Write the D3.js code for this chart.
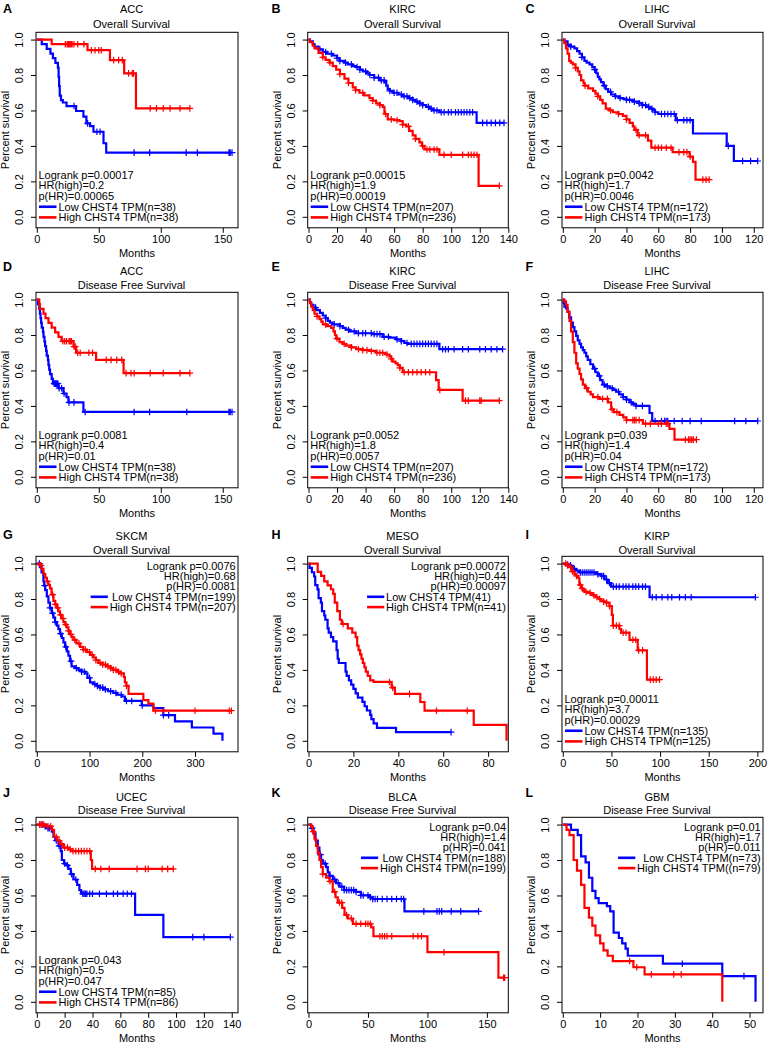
<!DOCTYPE html>
<html><head><meta charset="utf-8">
<script src="https://cdn.jsdelivr.net/npm/d3@7"></script>
<style>body{margin:0;background:#fff}svg{display:block}</style>
</head><body><svg id="c" width="770" height="1043"></svg>
<script>
// ---------- data ----------
const panelLetters = ["A","B","C","D","E","F","G","H","I","J","K","L"];
const cancers = ["ACC","KIRC","LIHC","ACC","KIRC","LIHC","SKCM","MESO","KIRP","UCEC","BLCA","GBM"];
const survTypes = ["Overall Survival","Overall Survival","Overall Survival","Disease Free Survival","Disease Free Survival","Disease Free Survival","Overall Survival","Overall Survival","Overall Survival","Disease Free Survival","Disease Free Survival","Disease Free Survival"];
const logrankP = ["0.00017","0.00015","0.0042","0.0081","0.0052","0.039","0.0076","0.00072","0.00011","0.043","0.04","0.01"];
const hrHigh = ["0.2","1.9","1.7","0.4","1.8","1.4","0.68","0.44","3.7","0.5","1.4","1.7"];
const pHR = ["0.00065","0.00019","0.0046","0.01","0.0057","0.04","0.0081","0.00097","0.00029","0.047","0.041","0.011"];
const lowLabels = ["Low CHST4 TPM(n=38)","Low CHST4 TPM(n=207)","Low CHST4 TPM(n=172)","Low CHST4 TPM(n=38)","Low CHST4 TPM(n=207)","Low CHST4 TPM(n=172)","Low CHST4 TPM(n=199)","Low CHST4 TPM(41)","Low CHST4 TPM(n=135)","Low CHST4 TPM(n=85)","Low CHST4 TPM(n=188)","Low CHST4 TPM(n=73)"];
const highLabels = ["High CHST4 TPM(n=38)","High CHST4 TPM(n=236)","High CHST4 TPM(n=173)","High CHST4 TPM(n=38)","High CHST4 TPM(n=236)","High CHST4 TPM(n=173)","High CHST4 TPM(n=207)","High CHST4 TPM(n=41)","High CHST4 TPM(n=125)","High CHST4 TPM(n=86)","High CHST4 TPM(n=199)","High CHST4 TPM((n=79)"];
const xMaxMonths = [162.3,140,125.8,162.3,140,125.8,381.5,89,205.8,144.5,168,53.6];
const xTicksA = [0,50,100,150];
const xTicksB = [0,20,40,60,80,100,120,140];
const xTicksC = [0,20,40,60,80,100,120];
const xTicksG = [0,100,200,300];
const xTicksH = [0,20,40,60,80];
const xTicksI = [0,50,100,150,200];
const xTicksJ = [0,20,40,60,80,100,120,140];
const xTicksK = [0,50,100,150];
const xTicksL = [0,10,20,30,40,50];
const yTicks = [0,0.2,0.4,0.6,0.8,1.0];

// survival steps [month, survival] and censor times
const accOsLow = [[4,0.974],[8,0.947],[11,0.921],[13,0.895],[15,0.868],[17,0.842],[17.6,0.789],[18,0.737],[18.5,0.684],[19.5,0.658],[21,0.645],[24,0.625],[31.7,0.597],[37.6,0.565],[40,0.527],[43,0.512],[45.7,0.48],[53.8,0.415],[56,0.362]];
const accOsLowCens = [30,41,48.5,51,78.5,91,120.5,129.5,155,156,157.5];
const accOsHigh = [[12,0.974],[40.9,0.94],[59,0.884],[70.5,0.809],[80,0.612]];
const accOsHighCens = [23,24.5,25.5,26.5,27.5,28.5,30,33,38,44,47,50,52,62,66,69,74,77,78,91.5,96.5,102,107.5,115.5,123.5];

const kircOsLow = [[1,0.99],[3,0.975],[4.2,0.96],[7,0.945],[10,0.93],[13,0.92],[17,0.91],[20,0.895],[21.7,0.88],[25,0.87],[27.5,0.86],[31,0.85],[33.4,0.845],[36,0.83],[38,0.82],[41,0.81],[42.7,0.80],[46,0.785],[49.7,0.77],[53.2,0.76],[54.5,0.74],[55.5,0.72],[57,0.71],[59,0.70],[63,0.69],[66,0.68],[70,0.67],[73,0.66],[75,0.65],[77.7,0.64],[80,0.63],[82.4,0.62],[85,0.61],[87,0.60],[91.7,0.59],[117.8,0.53]];
const kircOsLowCens = [8,12,16,20,22,26,30,34,36,40,43,46,49,51,53,57,60,62,65,67,69,71,73,76,78,80,84,86,88,90,93,95,98,100,103,105,107,109,111,113,115,122,125,128,131,134,137];
const kircOsHigh = [[1,0.985],[3,0.965],[4.2,0.95],[7,0.925],[10,0.90],[12,0.885],[14.7,0.87],[17,0.85],[19.4,0.83],[22,0.805],[25.2,0.78],[28,0.755],[31,0.73],[33,0.715],[35.7,0.70],[39,0.685],[42.7,0.67],[45,0.655],[47.4,0.64],[50,0.63],[52,0.62],[53.2,0.58],[55.5,0.55],[60,0.545],[63.7,0.54],[66,0.52],[68.4,0.51],[70.5,0.485],[73,0.46],[75,0.44],[77.7,0.42],[79.5,0.40],[81.2,0.38],[91.7,0.35],[119.2,0.175]];
const kircOsHighCens = [10,15,22,28,33,38,45,50,54,58,62,66,70,75,80,83,85,88,90,95,100,108,112,114,116,118,133.7];

const lihcOsLow = [[1,0.99],[3,0.97],[5,0.96],[7.3,0.95],[9,0.935],[10.5,0.92],[12,0.90],[13.6,0.88],[15,0.87],[16.8,0.86],[18.5,0.845],[20,0.83],[21,0.81],[22,0.79],[23,0.775],[24,0.76],[25.5,0.74],[27,0.72],[28.5,0.705],[30.4,0.69],[33,0.68],[35.6,0.67],[38,0.665],[40,0.66],[44,0.65],[48,0.64],[50,0.63],[52.4,0.62],[54.5,0.61],[56.6,0.60],[58,0.59],[60,0.58],[71,0.545],[81.8,0.47],[103,0.40],[107.5,0.315]];
const lihcOsLowCens = [5,12,20,26,30,33,36,40,42,45,48,50,52,54,56,58,62,64,66,68,70,72,76,78,80,104,113,118,122.5];
const lihcOsHigh = [[1,0.98],[2,0.95],[3,0.92],[4,0.88],[5,0.87],[6.3,0.86],[8,0.84],[9.4,0.82],[10.5,0.80],[11.5,0.77],[13,0.755],[13.6,0.74],[16,0.725],[19,0.71],[20.5,0.695],[22,0.68],[23.5,0.66],[25,0.64],[27,0.61],[29,0.60],[31.4,0.59],[35,0.58],[37.7,0.57],[40,0.55],[42,0.53],[44,0.51],[45,0.49],[47,0.46],[53.5,0.43],[55.6,0.39],[69,0.365],[79.7,0.34],[81.8,0.31],[83.4,0.21]];
const lihcOsHighCens = [8,14,22,30,35,40,46,48,52,58,60,62,65,68,73,76,78,80,88,90,92];

const accDfsLow = [[1,0.974],[2,0.947],[2.5,0.921],[3,0.895],[3.5,0.868],[4,0.842],[5,0.816],[5.4,0.789],[6.2,0.763],[6.7,0.737],[7.5,0.711],[8,0.684],[9,0.658],[9.4,0.632],[10,0.605],[10.7,0.579],[12,0.553],[13,0.526],[17.5,0.50],[21.5,0.47],[24,0.45],[25.5,0.42],[37.6,0.366]];
const accDfsLowCens = [14,15,16,17,18,20,22,26,30,39,78.5,91,121,155,156,157.5];
const accDfsHigh = [[2,0.974],[2.5,0.947],[5.4,0.921],[7,0.895],[9.4,0.868],[12,0.842],[14.8,0.815],[17.5,0.79],[20,0.765],[29.6,0.735],[31.7,0.70],[47.8,0.66],[70,0.585]];
const accDfsHighCens = [21,22.5,24,26,27,28,30,31,33,35,42,45,56,60,64.5,68.5,72,76,78.5,91.5,102,115.5,123.5];

const kircDfsLow = [[1,0.985],[1.9,0.97],[3.5,0.955],[5.4,0.94],[8,0.925],[10,0.91],[12,0.895],[13.5,0.88],[15,0.87],[17,0.86],[22,0.85],[24,0.84],[26,0.83],[28.7,0.82],[33.4,0.81],[45,0.805],[52,0.79],[56.7,0.785],[61.4,0.775],[65,0.765],[67.2,0.755],[69.5,0.75],[91.7,0.72]];
const kircDfsLowCens = [5,12,18,22,28,32,35,38,40,44,46,48,50,53,56,62,65,69,72,74,76,78,80,82,84,86,88,90,94,96,98,102,108,112,120,124,128,132,136];
const kircDfsHigh = [[1,0.98],[1.9,0.96],[3,0.94],[4.2,0.92],[6,0.905],[7.7,0.89],[9,0.875],[10,0.86],[13,0.85],[15.9,0.84],[17.5,0.82],[18.5,0.80],[19.4,0.78],[21.7,0.76],[24,0.75],[26.4,0.74],[30,0.73],[33.4,0.72],[38,0.715],[42.7,0.71],[47.4,0.70],[54,0.69],[56.7,0.68],[58,0.665],[59,0.65],[61,0.64],[62.5,0.63],[64,0.615],[66,0.59],[89.4,0.545],[91.2,0.49],[108,0.43]];
const kircDfsHighCens = [6,12,20,25,30,35,38,41,44,48,50,52,55,58,64,67,70,73,76,79,82,85,92,110,112,120,121,133.7];

const lihcDfsLow = [[0.5,0.98],[1,0.96],[2,0.95],[3,0.93],[4,0.90],[5.2,0.87],[6.3,0.845],[7.3,0.82],[8.4,0.795],[9.4,0.77],[10.5,0.75],[11.5,0.73],[12.6,0.715],[13.6,0.70],[14.7,0.68],[15.7,0.66],[17.3,0.635],[19,0.61],[20.5,0.59],[22,0.57],[23.5,0.545],[25,0.52],[27,0.51],[29.4,0.50],[31.5,0.49],[33.5,0.48],[35.5,0.465],[37.7,0.45],[40,0.435],[42,0.42],[44,0.41],[46,0.40],[54.5,0.36],[56.2,0.315]];
const lihcDfsLowCens = [20,23,26,28,31,35,38,40,43,46,50,58,62,64,65,66,70,75,80,87,108,115,122.5];
const lihcDfsHigh = [[1,0.99],[2,0.97],[3,0.93],[4.2,0.88],[5.2,0.82],[6.3,0.76],[7.3,0.70],[8.4,0.64],[9.4,0.61],[10.5,0.58],[11.5,0.55],[12.6,0.52],[14,0.50],[15.7,0.48],[17.5,0.465],[19,0.45],[23,0.44],[28.3,0.42],[30.4,0.38],[32,0.365],[35.6,0.35],[38,0.335],[40,0.32],[50.3,0.30],[67,0.27],[70.2,0.21]];
const lihcDfsHighCens = [15,22,25,28,31,34,40,44,45,46,48,52,55,60,62,65,66,77,79,80,81,82,84];

const skcmOsLow = [[6,0.98],[9,0.95],[12.6,0.90],[14,0.875],[16,0.85],[19,0.815],[22,0.78],[25,0.75],[28.4,0.72],[31.5,0.695],[34.7,0.67],[38,0.65],[41,0.63],[44,0.605],[47.4,0.58],[50.5,0.555],[53.7,0.53],[57,0.505],[60,0.48],[63,0.45],[66,0.42],[72,0.41],[79,0.40],[85,0.39],[91.6,0.38],[96,0.355],[101,0.33],[107,0.32],[114,0.31],[120,0.30],[126,0.29],[135,0.28],[145,0.27],[152,0.26],[161,0.25],[167,0.225],[199,0.20],[221,0.185],[240,0.145],[262,0.11],[294,0.075],[335,0.04],[352,0.0]];
const skcmOsLowCens = [5,15,25,30,35,45,55,65,75,85,90,100,110,115,120,125,130,140,150,160,170,180,200,240,250];
const skcmOsHigh = [[6,0.99],[9,0.97],[12.6,0.94],[16,0.92],[19,0.90],[22,0.88],[25,0.86],[28,0.825],[31.6,0.79],[35,0.77],[38,0.75],[41,0.73],[44,0.71],[47,0.69],[50.5,0.67],[54,0.655],[57,0.64],[60,0.62],[63,0.60],[66,0.585],[69.5,0.57],[75,0.55],[82,0.53],[88,0.515],[95,0.50],[101,0.485],[107,0.47],[112,0.455],[117,0.44],[125,0.43],[133,0.42],[140,0.41],[145,0.40],[152,0.39],[158,0.38],[165,0.36],[167,0.33],[170,0.31],[174,0.265],[202,0.23],[211.6,0.21],[221,0.17]];
const skcmOsHighCens = [8,20,30,35,40,45,50,55,60,65,72,80,88,92,100,105,112,120,125,130,135,140,145,150,155,160,170,225,240,300,365,369];

const mesoOsLow = [[0.5,0.976],[1.5,0.951],[2.5,0.927],[3,0.878],[4,0.854],[4.5,0.805],[5.5,0.78],[6,0.732],[7,0.707],[7.5,0.683],[8.5,0.634],[9,0.61],[10,0.585],[11,0.561],[12.5,0.512],[13,0.463],[13.5,0.439],[16.5,0.39],[17,0.366],[18,0.341],[19,0.317],[20,0.293],[21,0.268],[22,0.244],[24,0.22],[25,0.195],[26,0.171],[27.5,0.146],[28,0.122],[29,0.098],[30.5,0.073],[39,0.049]];
const mesoOsLowCens = [63.5];
const mesoOsHigh = [[4.1,0.953],[5.6,0.93],[7,0.90],[8.5,0.877],[10,0.855],[11,0.829],[11.7,0.78],[12.8,0.732],[14,0.683],[14.8,0.659],[17.5,0.634],[19.5,0.61],[21,0.585],[21.7,0.537],[22.3,0.512],[23,0.488],[23.6,0.463],[24.2,0.439],[24.9,0.415],[25.5,0.39],[26.4,0.366],[27.5,0.341],[29,0.332],[37,0.30],[38.5,0.265],[49.8,0.219],[51.7,0.17],[73.6,0.09],[88.2,0]];
const mesoOsHighCens = [15.4,36,37.5,45,57,70.7];

const kirpOsLow = [[3,0.995],[6.9,0.99],[8.6,0.98],[10.3,0.97],[13.7,0.96],[17,0.95],[34.3,0.94],[39.5,0.93],[43,0.91],[46.3,0.89],[49.7,0.87],[89.2,0.81]];
const kirpOsLowCens = [5,8,12,18,20,22,24,26,28,30,32,36,40,42,45,48,52,55,58,62,65,68,72,75,78,82,85,92,96,102,108,112,120,126,132,198];
const kirpOsHigh = [[3.4,0.99],[6.9,0.98],[8.5,0.965],[10,0.955],[12,0.94],[14,0.93],[15.4,0.92],[17,0.88],[18.9,0.86],[20.5,0.85],[22.3,0.84],[26,0.835],[29,0.83],[31,0.82],[34,0.81],[37,0.80],[39.5,0.79],[42,0.785],[44.6,0.78],[48,0.76],[50.4,0.71],[51.5,0.65],[58.3,0.63],[60,0.61],[68.6,0.57],[77,0.51],[86.5,0.345]];
const kirpOsHighCens = [3,5,8,10,14,18,20,24,28,32,35,38,42,45,48,52,55,58,62,65,72,75,78,82,90,93,96,99.5];

const ucecDfsLow = [[4.8,0.99],[7.2,0.98],[10.8,0.96],[12,0.93],[13.2,0.91],[15.6,0.88],[17.2,0.85],[18,0.80],[19.6,0.78],[21.5,0.77],[22.7,0.75],[24.4,0.72],[26.3,0.69],[29,0.66],[30.6,0.63],[31.8,0.61],[70.6,0.49],[90.9,0.365]];
const ucecDfsLowCens = [2,4,6,8,9,14,16,20,22,25,28,33,34,35,36,38,40,45,50,55,58,62,65,68,112,120,139];
const ucecDfsHigh = [[7.2,0.99],[10.8,0.97],[12.4,0.93],[14.4,0.91],[16.7,0.89],[19,0.87],[22.7,0.86],[25.6,0.85],[38.8,0.80],[39.7,0.75]];
const ucecDfsHighCens = [2,3,4,5,8,10,14,16,18,20,22,24,26,28,30,32,34,36,38,42,46,52,72,78,80,90,94,98];

const blcaDfsLow = [[2.2,0.98],[4.2,0.95],[5.9,0.91],[7.8,0.87],[9.2,0.83],[10.6,0.80],[12,0.78],[14.8,0.76],[16.2,0.73],[17.6,0.71],[20.4,0.69],[23.2,0.67],[26,0.65],[30,0.63],[40,0.62],[44,0.60],[51,0.59],[54,0.58],[80.7,0.51]];
const blcaDfsLowCens = [3,10,14,18,22,25,28,30,32,34,36,38,40,44,46,50,52,54,56,58,62,66,70,74,78,80,97,108,110,112,120,128,143];
const blcaDfsHigh = [[2.2,0.99],[3.6,0.96],[5,0.92],[6.4,0.88],[7.8,0.84],[9.2,0.80],[10.6,0.76],[12,0.72],[14.8,0.70],[17.6,0.68],[20.4,0.62],[22.7,0.59],[24.6,0.56],[28.3,0.53],[30.3,0.49],[33,0.47],[37.3,0.44],[52.7,0.42],[54.6,0.37],[100,0.28],[159.7,0.136]];
const blcaDfsHighCens = [4,12,18,22,26,28,32,36,40,44,48,50,52,60,62,64,66,70,88,92,95,114,164,165];

const gbmDfsLow = [[2.2,0.97],[4,0.94],[4.9,0.82],[6.1,0.787],[7,0.70],[7.9,0.626],[8.75,0.585],[9.6,0.557],[11.8,0.54],[12.7,0.51],[13.6,0.39],[15,0.36],[15.9,0.33],[16.8,0.30],[17.4,0.26],[26.8,0.215],[42.7,0.145],[51.6,0]];
const gbmDfsLowCens = [32,48.5];
const gbmDfsHigh = [[1,0.97],[1.8,0.94],[2.9,0.80],[3.8,0.74],[4.9,0.66],[5.8,0.53],[7,0.475],[7.9,0.43],[8.75,0.375],[10,0.33],[10.9,0.29],[12,0.26],[13.4,0.23],[18.9,0.195],[21.9,0.155],[42.7,0]];
const gbmDfsHighCens = [17.9,19.8,23.7,29.7,31.7];

// ---------- assembly ----------
const xTickSets = [xTicksA,xTicksB,xTicksC,xTicksA,xTicksB,xTicksC,xTicksG,xTicksH,xTicksI,xTicksJ,xTicksK,xTicksL];
const lowSteps = [accOsLow,kircOsLow,lihcOsLow,accDfsLow,kircDfsLow,lihcDfsLow,skcmOsLow,mesoOsLow,kirpOsLow,ucecDfsLow,blcaDfsLow,gbmDfsLow];
const lowCens = [accOsLowCens,kircOsLowCens,lihcOsLowCens,accDfsLowCens,kircDfsLowCens,lihcDfsLowCens,skcmOsLowCens,mesoOsLowCens,kirpOsLowCens,ucecDfsLowCens,blcaDfsLowCens,gbmDfsLowCens];
const highSteps = [accOsHigh,kircOsHigh,lihcOsHigh,accDfsHigh,kircDfsHigh,lihcDfsHigh,skcmOsHigh,mesoOsHigh,kirpOsHigh,ucecDfsHigh,blcaDfsHigh,gbmDfsHigh];
const highCens = [accOsHighCens,kircOsHighCens,lihcOsHighCens,accDfsHighCens,kircDfsHighCens,lihcDfsHighCens,skcmOsHighCens,mesoOsHighCens,kirpOsHighCens,ucecDfsHighCens,blcaDfsHighCens,gbmDfsHighCens];
const legendCorner = ["bl","bl","bl","bl","bl","bl","tr","tr","bl","bl","tr","tr"];
const legendLeftAlign = [false,false,false,false,false,false,false,true,false,false,false,false];

// layout
const colL = [36, 307.7, 562], colR = [238, 508.3, 763];
const rowT = [32.3, 292.3, 556.3, 817.3], boxH = 195.5;
const letterX = [3, 271.5, 525.5], letterBase = [12.9, 270.8, 538.8, 796.5];
const title1Off = [-19, -17.6, -16.2, -16.3], title2Off = [-4.6, -3.6, -2.7, -3];
const FONT = "'Liberation Sans', Arial, Helvetica, sans-serif";
const BLUE = "#0000FF", RED = "#FF0000";

const svg = d3.select("#c");
svg.append("rect").attr("width",770).attr("height",1043).attr("fill","#fff");

function survAt(steps, t){ let s = 1; for (const [ti,si] of steps){ if (ti <= t) s = si; else break; } return s; }

panelLetters.forEach((letter, i) => {
  const col = i % 3, row = Math.floor(i / 3);
  const L = colL[col], R = colR[col], T = rowT[row], B = T + boxH;
  const x = d3.scaleLinear().domain([0, xMaxMonths[i]]).range([L + 0.8, R]);
  const y = d3.scaleLinear().domain([-0.062, 1.041]).range([B, T]);
  const g = svg.append("g").attr("font-family", FONT).attr("font-size", 11);

  // letter and titles
  g.append("text").attr("x", letterX[col]).attr("y", letterBase[row]).attr("font-weight","bold").attr("font-size",12.5).text(letter);
  const tc = (L + R) / 2 - 5.5;
  g.append("text").attr("x", tc).attr("y", T + title1Off[row]).attr("text-anchor","middle").text(cancers[i]);
  g.append("text").attr("x", tc).attr("y", T + title2Off[row]).attr("text-anchor","middle").text(survTypes[i]);

  // axes
  const ya = g.append("g").attr("transform", `translate(${L},0)`)
    .call(d3.axisLeft(y).tickValues(yTicks).tickSize(5).tickSizeOuter(0).tickFormat(d3.format(".1f")));
  ya.select(".domain").remove();
  ya.attr("font-family", FONT).attr("font-size", 11);
  ya.selectAll(".tick line").attr("stroke","#000");
  ya.selectAll(".tick text").attr("x",0).attr("dy","0.35em").attr("text-anchor","middle").attr("fill","#000")
    .attr("transform","translate(-16.5,0) rotate(-90)");

  const xa = g.append("g").attr("transform", `translate(0,${B})`)
    .call(d3.axisBottom(x).tickValues(xTickSets[i]).tickSize(5).tickSizeOuter(0).tickFormat(d3.format("d")));
  xa.select(".domain").remove();
  xa.attr("font-family", FONT).attr("font-size", 11);
  xa.selectAll(".tick line").attr("stroke","#000");
  xa.selectAll(".tick text").attr("y",7).attr("fill","#000");

  g.append("text").attr("transform", `translate(${L - 31},${(T + B) / 2}) rotate(-90)`).attr("dy","0.35em")
    .attr("text-anchor","middle").text("Percent survival");
  g.append("text").attr("x", (L + R) / 2).attr("y", B + 28.7).attr("text-anchor","middle").text("Months");

  // curves
  const line = d3.line().x(d => x(d[0])).y(d => y(d[1])).curve(d3.curveStepAfter);
  [[lowSteps[i], lowCens[i], BLUE],[highSteps[i], highCens[i], RED]].forEach(([steps, cens, color]) => {
    const lastT = Math.max(steps[steps.length-1][0], cens.length ? d3.max(cens) : 0);
    const pts = [[0,1], ...steps, [lastT, steps[steps.length-1][1]]];
    g.append("path").attr("d", line(pts)).attr("fill","none").attr("stroke",color).attr("stroke-width",2.2);
    const h = 3.3;
    g.append("path").attr("d", cens.map(t => {
        const cx = x(t), cy = y(survAt(steps, t));
        return `M${cx - h},${cy}H${cx + h}M${cx},${cy - h}V${cy + h}`;
      }).join("")).attr("fill","none").attr("stroke",color).attr("stroke-width",1.2);
  });

  // box
  g.append("rect").attr("x", L).attr("y", T).attr("width", R - L).attr("height", B - T)
    .attr("fill","none").attr("stroke","#000").attr("stroke-width",1);

  // legend
  const stats = ["Logrank p=" + logrankP[i], "HR(high)=" + hrHigh[i], "p(HR)=" + pHR[i]];
  const labels = [[lowLabels[i], BLUE],[highLabels[i], RED]];
  if (legendCorner[i] === "bl") {
    const base = T + 146.3, step = 10.65;
    stats.forEach((s, k) => g.append("text").attr("x", L + 2.5).attr("y", base + k * step).text(s));
    labels.forEach(([s, c], k) => {
      const by = base + (k + 3) * step;
      g.append("line").attr("x1", L + 3).attr("x2", L + 20.5).attr("y1", by - 3.8).attr("y2", by - 3.8)
        .attr("stroke", c).attr("stroke-width", 2.6);
      g.append("text").attr("x", L + 22.5).attr("y", by).text(s);
    });
  } else {
    const base = T + 13.4, step = 10.3, xr = R - 2.3;
    stats.forEach((s, k) => g.append("text").attr("x", xr).attr("y", base + k * step).attr("text-anchor","end").text(s));
    const tmp = labels.map(([s]) => { const t = g.append("text").text(s); const w = t.node().getComputedTextLength(); t.remove(); return w; });
    const maxW = d3.max(tmp);
    const textLeft = xr - maxW;
    labels.forEach(([s, c], k) => {
      const by = base + (k + 3) * step;
      g.append("line").attr("x1", textLeft - 19).attr("x2", textLeft - 1.8).attr("y1", by - 3.8).attr("y2", by - 3.8)
        .attr("stroke", c).attr("stroke-width", 2.6);
      if (legendLeftAlign[i]) g.append("text").attr("x", textLeft).attr("y", by).text(s);
      else g.append("text").attr("x", xr).attr("y", by).attr("text-anchor","end").text(s);
    });
  }
});
</script></body></html>
